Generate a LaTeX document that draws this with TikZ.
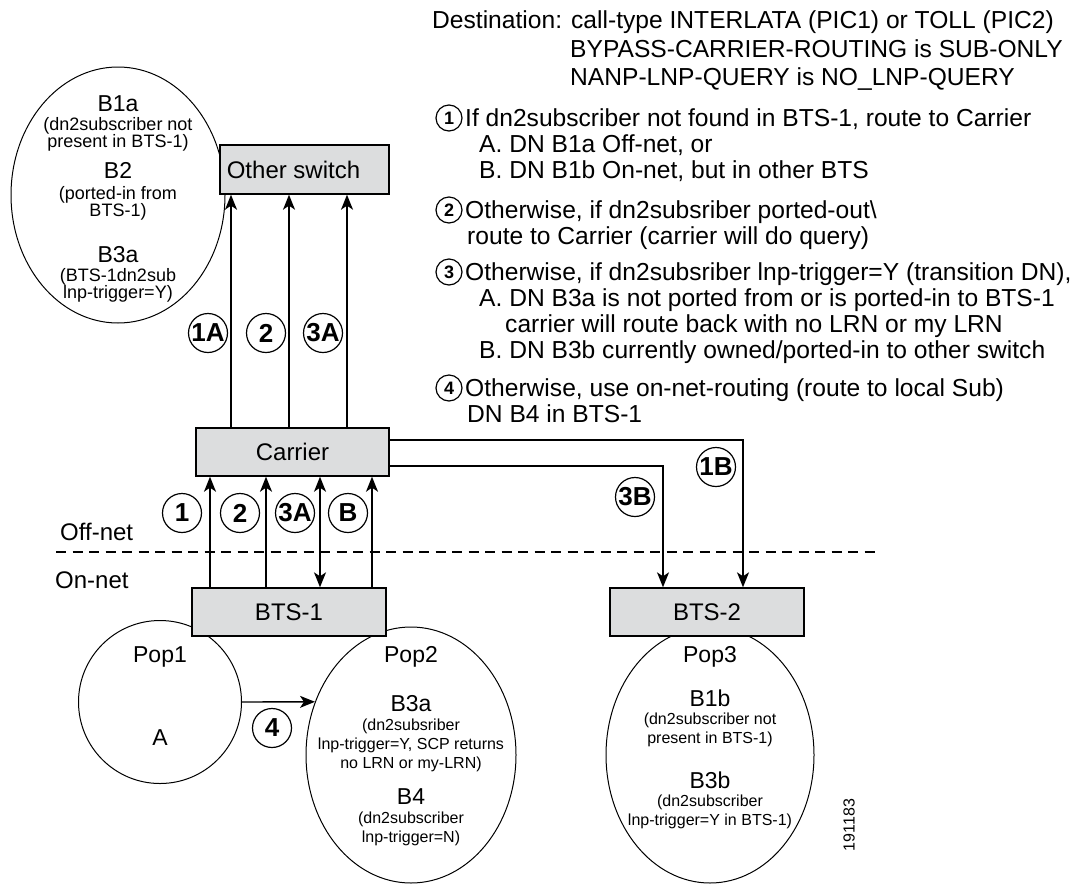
\documentclass[tikz,border=0pt]{standalone}
\usepackage{fontspec}
\setmainfont{Liberation Sans}
\usetikzlibrary{arrows.meta,shapes.geometric}
\definecolor{boxgray}{RGB}{220,221,222}
\begin{document}
\begin{tikzpicture}[x=1pt,y=-1pt,
  box/.style={draw, fill=boxgray, line width=1.4pt, rectangle, inner sep=0pt, minimum height=48pt, font=\fontsize{24}{24}\selectfont},
  oval/.style={draw, ellipse, line width=1pt, inner sep=0pt},
  tag/.style={draw, circle, fill=white, line width=1.2pt, minimum size=39pt, inner sep=0pt, font=\bfseries\fontsize{26}{26}\selectfont},
  num/.style={draw, circle, line width=1.2pt, minimum size=26pt, inner sep=0pt, font=\bfseries\fontsize{18}{18}\selectfont},
  flow/.style={line width=1.4pt, -{Stealth[length=15pt,width=12pt,inset=4pt]}},
  both/.style={line width=1.4pt, {Stealth[length=15pt,width=12pt,inset=4pt]}-{Stealth[length=15pt,width=12pt,inset=4pt]}},
  big/.style={inner sep=0pt, font=\fontsize{23}{23}\selectfont},
  note/.style={inner sep=0pt, anchor=base west, font=\fontsize{24.6}{24.6}\selectfont},
  smallL/.style={inner sep=0pt, align=center, font=\fontsize{18}{17}\selectfont},
  smallP/.style={inner sep=0pt, align=center, font=\fontsize{16}{19}\selectfont},
  netlbl/.style={inner sep=0pt, anchor=west, font=\fontsize{24}{24}\selectfont}
]
\useasboundingbox (0,0) rectangle (1076,884);

% ellipses
\node[oval, minimum width=214pt, minimum height=256pt] (grp) at (118,195) {};
\node[oval, circle, minimum size=163pt] (pop1) at (160,702) {};
\node[oval, minimum width=210pt, minimum height=256pt] (pop2) at (411,755) {};
\node[oval, minimum width=208pt, minimum height=256pt] (pop3) at (710,755) {};

% boxes
\node[box, minimum width=169pt, minimum height=49pt] (other) at (304.5,169.5) {\hspace*{-22pt}Other switch};
\node[box, minimum width=193pt] (carrier) at (292.5,452) {Carrier};
\node[box, minimum width=194pt] (bts1) at (289,612) {BTS-1};
\node[box, minimum width=194pt] (bts2) at (707,612) {BTS-2};

% left group text
\node[big] (g1) at (118,104) {B1a};
\node[smallL] (g1t) at (118,134) {(dn2subscriber not\\present in BTS-1)};
\node[big] (g2) at (118,170) {B2};
\node[smallL] (g2t) at (118,203) {(ported-in from\\BTS-1)};
\node[big] (g3) at (118,255) {B3a};
\node[smallL] (g3t) at (118,285) {(BTS-1dn2sub\\lnp-trigger=Y)};

% pop1
\node[big] (p1a) at (160,657) {Pop1};
\node[big] (p1b) at (160,738) {A};

% pop2
\node[big] (p2a) at (411,657) {Pop2};
\node[big] (p2b) at (411,704) {B3a};
\node[smallP] (p2c) at (411,745.5) {(dn2subsriber\\lnp-trigger=Y, SCP returns\\no LRN or my-LRN)};
\node[big] (p2d) at (411,797) {B4};
\node[smallP] (p2e) at (411,828.5) {(dn2subscriber\\lnp-trigger=N)};

% pop3
\node[big] (p3a) at (710,657) {Pop3};
\node[big] (p3b) at (710,698) {B1b};
\node[smallP] (p3c) at (710,729.5) {(dn2subscriber not\\present in BTS-1)};
\node[big] (p3d) at (710,780) {B3b};
\node[smallP] (p3e) at (710,812) {(dn2subscriber\\lnp-trigger=Y in BTS-1)};

\node[rotate=90, inner sep=0pt, font=\fontsize{16}{16}\selectfont] (fig) at (849,825) {191183};

% dashed divider
\coordinate (dl) at (56,552);
\coordinate (dr) at (878,552);
\draw[line width=1.2pt, dash pattern=on 10pt off 6.5pt] (dl) -- (dr);
\node[netlbl] (off) at (60,532) {Off-net};
\node[netlbl] (on) at (55,580) {On-net};

% arrows carrier -> other switch
\coordinate (u1) at (231,0);
\coordinate (u2) at (289,0);
\coordinate (u3) at (347,0);
\draw[flow] (u1 |- carrier.north) -- (u1 |- other.south);
\draw[flow] (u2 |- carrier.north) -- (u2 |- other.south);
\draw[flow] (u3 |- carrier.north) -- (u3 |- other.south);

% arrows bts1 -> carrier
\coordinate (d1) at (210,0);
\coordinate (d2) at (266,0);
\coordinate (d3) at (320,0);
\coordinate (d4) at (372,0);
\draw[flow] (d1 |- bts1.north) -- (d1 |- carrier.south);
\draw[flow] (d2 |- bts1.north) -- (d2 |- carrier.south);
\draw[both] (d3 |- bts1.north) -- (d3 |- carrier.south);
\draw[flow] (d4 |- bts1.north) -- (d4 |- carrier.south);

% carrier -> bts2
\coordinate (r1) at (743,440);
\coordinate (r2) at (663,466);
\draw[flow] (r1 -| carrier.east) -| (r1 |- bts2.north);
\draw[flow] (r2 -| carrier.east) -| (r2 |- bts2.north);

% pop1 -> pop2
\draw[flow] (pop1.east) -- (pop2.151);

% tags
\node[tag] (t1a) at (208,333) {1A};
\node[tag] (t2u) at (266,333) {2};
\node[tag] (t3a) at (323,333) {3A};
\node[tag] (t1) at (182,513) {1};
\node[tag] (t2) at (240,513) {2};
\node[tag] (t3al) at (295,513) {3A};
\node[tag] (tb) at (348,513) {B};
\node[tag] (t1b) at (716,467) {1B};
\node[tag] (t3b) at (635,497) {3B};
\node[tag] (t4) at (272,728) {4};

% notes
\node[note] (n0) at (432,28) {Destination: call-type INTERLATA (PIC1) or TOLL (PIC2)};
\node[note] (n0b) at (570,57) {BYPASS-CARRIER-ROUTING is SUB-ONLY};
\node[note] (n0c) at (570,85) {NANP-LNP-QUERY is NO\_LNP-QUERY};
\node[num] (c1) at (449,118) {1};
\node[note] (n1) at (465,126.5) {If dn2subscriber not found in BTS-1, route to Carrier};
\node[note] (n1a) at (479,152.5) {A. DN B1a Off-net, or};
\node[note] (n1b) at (479,178.5) {B. DN B1b On-net, but in other BTS};
\node[num] (c2) at (449,210) {2};
\node[note] (n2) at (465,218.5) {Otherwise, if dn2subsriber ported-out\textbackslash};
\node[note] (n2a) at (467,244.5) {route to Carrier (carrier will do query)};
\node[num] (c3) at (449,272) {3};
\node[note] (n3) at (465,280.5) {Otherwise, if dn2subsriber lnp-trigger=Y (transition DN),};
\node[note] (n3a) at (479,306.5) {A. DN B3a is not ported from or is ported-in to BTS-1};
\node[note] (n3b) at (505,332.5) {carrier will route back with no LRN or my LRN};
\node[note] (n3c) at (479,358.5) {B. DN B3b currently owned/ported-in to other switch};
\node[num] (c4) at (449,388) {4};
\node[note] (n4) at (465,396.5) {Otherwise, use on-net-routing (route to local Sub)};
\node[note] (n4a) at (467,422.5) {DN B4 in BTS-1};
\end{tikzpicture}
\end{document}
